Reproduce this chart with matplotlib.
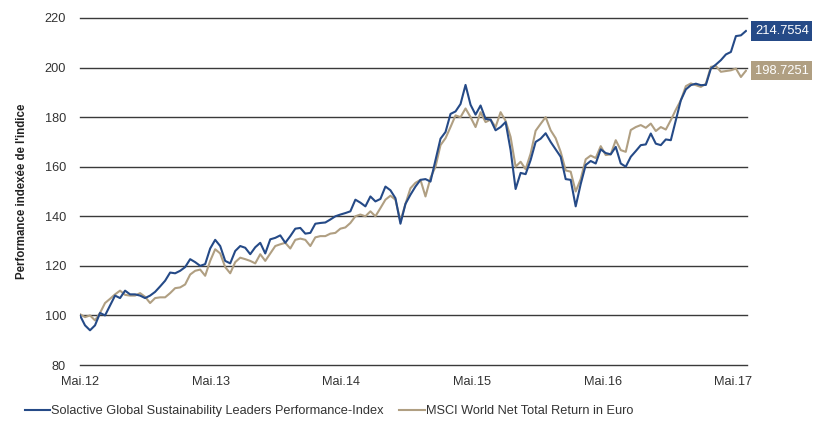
import numpy as np
import pandas as pd
import matplotlib
matplotlib.use('Agg')
import matplotlib.pyplot as plt
import matplotlib.transforms as mtransforms

plt.rcParams['font.family'] = ['Liberation Sans', 'DejaVu Sans']

# Index levels, every ~two weeks from May 2012
solactive = [100, 96, 94, 96, 101, 100, 104, 108, 107, 110,
             108.5, 108.5, 108, 107, 108, 109.5, 111.7, 114, 117.3, 117,
             118, 119.5, 122.7, 121.5, 120, 120.7, 127, 130.5, 128, 122,
             121, 126, 128, 127.3, 124.7, 127.5, 129.3, 125, 130.7, 131.3,
             132.3, 129.3, 132, 135, 135.3, 133, 133.3, 137, 137.3, 137.5,
             138.7, 140, 140.7, 141.3, 142, 146.7, 145.5, 144, 148, 146,
             147, 152, 150.5, 147.3, 137, 145, 148.7, 152, 154.7, 155,
             154, 162.7, 171.3, 174, 181.3, 182.3, 185.3, 193, 185, 181,
             184.7, 179.3, 179, 174.7, 176, 178, 166.7, 151, 157.5, 157,
             162.7, 170, 171.3, 173.5, 170, 167, 164, 155, 154.7, 144,
             153, 160.7, 162.3, 161.3, 167, 165.5, 165, 168, 161.3, 160,
             164, 166.3, 168.7, 169, 173.4, 169.3, 168.7, 171, 170.7, 178.8,
             186.8, 191.2, 192.9, 193.5, 192.9, 193, 199.6, 201.2, 203, 205.3,
             206.3, 212.7, 213, 214.7554]
msci = [100.5, 99.3, 100, 98, 101, 105, 106.7, 108.5, 110, 108.3,
        108, 108, 109, 107.5, 105, 107, 107.3, 107.3, 109, 111,
        111.3, 112.5, 116.5, 118, 118.5, 116, 122, 126.7, 125, 119.5,
        117, 121.5, 123.3, 122.7, 122, 121, 124.7, 122, 125, 128,
        128.7, 129.3, 127, 130.5, 131, 130.5, 128, 131.5, 132, 132,
        133, 133.3, 135, 135.5, 137.3, 140, 140.7, 140, 142, 140,
        143.3, 146.7, 148.3, 146.7, 138, 145, 151.3, 153.5, 154.7, 148,
        155.5, 160, 168.7, 171.5, 176, 180.7, 180, 183.5, 180, 176,
        182, 178, 179, 176, 182, 178.5, 172, 160, 162, 159,
        165.3, 174.5, 177.3, 180, 174.7, 171.5, 166, 158.5, 158, 150,
        155, 163, 164.5, 163.5, 168.3, 164.7, 165, 170.7, 166.7, 166,
        174.8, 176, 176.8, 175.7, 177.4, 174.4, 176, 175, 178.8, 183,
        186.8, 192.5, 193.6, 192.9, 192.2, 193.5, 200.3, 200.6, 198.3, 198.6,
        198.9, 199.6, 196.2, 198.7251]

dates = pd.date_range('2012-05-01', periods=len(solactive), freq='14D')
tick_dates = pd.to_datetime(['2012-05-01', '2013-05-01', '2014-05-01',
                             '2015-05-01', '2016-05-01', '2017-05-01'])
tick_labels = ['Mai.12', 'Mai.13', 'Mai.14', 'Mai.15', 'Mai.16', 'Mai.17']

blue = '#254a87'
tan = '#b09f82'

fig = plt.figure(figsize=(8.15, 4.36), dpi=100)
ax = fig.add_axes([80 / 815, 1 - 365 / 436, 667 / 815, 347 / 436])

for y in range(80, 221, 20):
    ax.axhline(y, color='#3a3a3a', lw=1.0, zorder=1, clip_on=False)

ax.plot(dates, msci, color=tan, lw=1.5, zorder=2,
        label='MSCI World Net Total Return in Euro')
ax.plot(dates, solactive, color=blue, lw=1.5, zorder=3,
        label='Solactive Global Sustainability Leaders Performance-Index')

ax.set_ylim(80, 220)
ax.set_xlim(dates[0], dates[-1] + pd.Timedelta(days=3))
ax.set_yticks(range(80, 221, 20))
ax.set_xticks(tick_dates)
ax.set_xticklabels(tick_labels)
ax.tick_params(length=0, labelsize=9.2, colors='#333333')
ax.tick_params(axis='y', pad=10)
ax.tick_params(axis='x', pad=8)
for s in ax.spines.values():
    s.set_visible(False)

ax.set_ylabel("Performance indexée de l'indice", fontsize=8.3, fontweight='bold',
              color='#222222', labelpad=12)

# end value boxes
trans = mtransforms.blended_transform_factory(ax.transAxes, ax.transData)
ax.text(1.012, solactive[-1], f'{solactive[-1]:.4f}', transform=trans,
        color='white', fontsize=9.3, va='center', ha='left',
        bbox=dict(boxstyle='square,pad=0.28', fc=blue, ec='none'))
ax.text(1.012, msci[-1], f'{msci[-1]:.4f}', transform=trans,
        color='white', fontsize=9.3, va='center', ha='left',
        bbox=dict(boxstyle='square,pad=0.28', fc=tan, ec='none'))

handles, labels = ax.get_legend_handles_labels()
fig.legend(handles[::-1], labels[::-1], loc='center left',
           bbox_to_anchor=(13 / 815, 1 - 411 / 436), ncol=2, frameon=False,
           fontsize=9.2, handlelength=2.0, handletextpad=0.1, columnspacing=1.2,
           labelcolor='#333333')

fig.savefig('out.png', dpi=100)
